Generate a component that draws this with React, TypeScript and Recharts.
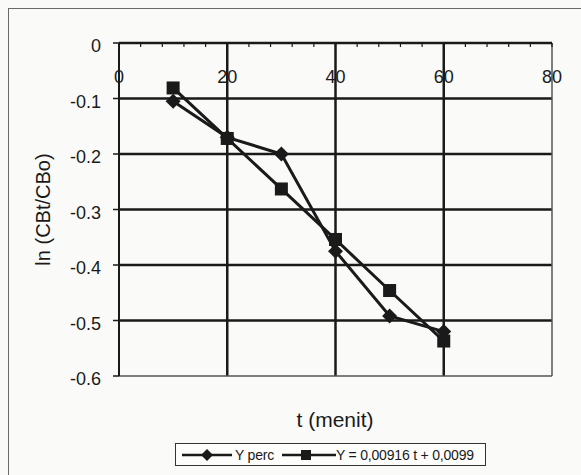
import React from 'react';
import { LineChart, Line, XAxis, YAxis, ReferenceLine } from 'recharts';

// waktu (menit) dan ln(CBt/CBo)
const T_MENIT = [10, 20, 30, 40, 50, 60];
const Y_PERC = [-0.105, -0.17, -0.2, -0.375, -0.492, -0.52];
const Y_FIT = [-0.081, -0.172, -0.263, -0.354, -0.446, -0.537];

const X_TICKS = [0, 4, 8, 12, 16, 20, 24, 28, 32, 36, 40, 44, 48, 52, 56, 60, 64, 68, 72, 76, 80];
const X_MAJOR = [0, 20, 40, 60, 80];
const Y_TICKS = [0, -0.1, -0.2, -0.3, -0.4, -0.5, -0.6];
const GRID_X = [20, 40, 60];
const GRID_Y = [-0.1, -0.2, -0.3, -0.4, -0.5];

const LEGEND = ['Y perc', 'Y = 0,00916 t + 0,0099'];

const FONT = "'Liberation Sans', Arial, sans-serif";
const INK = '#1a1a1a';
const PLOT_TOP = 43;

const data = T_MENIT.map((t, i) => ({ t, perc: Y_PERC[i], fit: Y_FIT[i] }));

const Diamond = (props: any) => {
  const { cx, cy } = props;
  if (cx == null || cy == null) return null;
  return <polygon points={`${cx},${cy - 7.5} ${cx + 7.5},${cy} ${cx},${cy + 7.5} ${cx - 7.5},${cy}`} fill={INK} />;
};

const Square = (props: any) => {
  const { cx, cy } = props;
  if (cx == null || cy == null) return null;
  return <rect x={cx - 6.5} y={cy - 6.5} width={13} height={13} fill={INK} />;
};

const XTick = (props: any) => {
  const { x, payload } = props;
  const v = payload.value;
  return (
    <g>
      <line x1={x} x2={x} y1={PLOT_TOP} y2={PLOT_TOP + 4} stroke={INK} strokeWidth={1.2} />
      {X_MAJOR.includes(v) && (
        <text x={x} y={PLOT_TOP + 34} textAnchor="middle" dominantBaseline="central" fontSize={18} fill={INK} fontFamily={FONT}>
          {v}
        </text>
      )}
    </g>
  );
};

function LegendBox() {
  return (
    <div
      style={{
        position: 'absolute',
        left: 175,
        top: 443,
        width: 311,
        height: 23,
        border: '1.5px solid #333',
        display: 'flex',
        alignItems: 'center',
        fontFamily: FONT,
        fontSize: 14,
        letterSpacing: -0.2,
        color: INK,
        boxSizing: 'border-box',
        background: '#fdfdfc',
      }}
    >
      <svg width={54} height={14} style={{ marginLeft: 4 }}>
        <line x1={2} x2={52} y1={7} y2={7} stroke={INK} strokeWidth={2.5} />
        <polygon points="27,1 33,7 27,13 21,7" fill={INK} />
      </svg>
      <span style={{ marginLeft: 1 }}>{LEGEND[0]}</span>
      <svg width={56} height={14} style={{ marginLeft: 6 }}>
        <line x1={2} x2={56} y1={7} y2={7} stroke={INK} strokeWidth={2.5} />
        <rect x={21} y={2} width={10} height={10} fill={INK} />
      </svg>
      <span>{LEGEND[1]}</span>
    </div>
  );
}

export default function App() {
  return (
    <div style={{ position: 'absolute', left: 0, top: 0, width: 581, height: 475, background: '#fafaf8', overflow: 'hidden' }}>
      <div
        style={{
          position: 'absolute',
          left: 8,
          top: 8,
          width: 600,
          height: 500,
          borderTop: '1.5px solid #6a6a66',
          borderLeft: '1.5px solid #6a6a66',
        }}
      />
      <div style={{ position: 'absolute', left: 0, top: 0 }}>
        <LineChart width={581} height={475} data={data} margin={{ top: 23, right: 29, bottom: 99, left: 59 }}>
          <XAxis
            dataKey="t"
            type="number"
            domain={[0, 80]}
            ticks={X_TICKS}
            interval={0}
            orientation="top"
            height={20}
            tickLine={false}
            axisLine={{ stroke: INK, strokeWidth: 2.5 }}
            tick={<XTick />}
          />
          <YAxis
            type="number"
            domain={[-0.6, 0]}
            ticks={Y_TICKS}
            interval={0}
            width={60}
            tickSize={6}
            tickMargin={12}
            tickFormatter={(v: number) => (v === 0 ? '0' : v.toFixed(1))}
            tick={{ fill: INK, fontSize: 18, fontFamily: FONT, dy: 3 }}
            tickLine={{ stroke: INK, strokeWidth: 1.5 }}
            axisLine={{ stroke: INK, strokeWidth: 2 }}
            label={{
              value: 'ln (CBt/CBo)',
              angle: -90,
              position: 'insideLeft',
              offset: -16,
              style: { textAnchor: 'middle', fontSize: 20, fontFamily: FONT, fill: INK },
            }}
          />
          {GRID_X.map((g) => (
            <ReferenceLine key={'gx' + g} x={g} stroke={INK} strokeWidth={2.5} />
          ))}
          {GRID_Y.map((g) => (
            <ReferenceLine key={'gy' + g} y={g} stroke={INK} strokeWidth={2.5} />
          ))}
          <ReferenceLine x={80} stroke="#555" strokeWidth={1.5} />
          <ReferenceLine y={-0.6} stroke="#555" strokeWidth={1.5} />
          <Line
            type="linear"
            dataKey="perc"
            name={LEGEND[0]}
            stroke={INK}
            strokeWidth={3}
            dot={<Diamond />}
            isAnimationActive={false}
          />
          <Line
            type="linear"
            dataKey="fit"
            name={LEGEND[1]}
            stroke={INK}
            strokeWidth={3}
            dot={<Square />}
            isAnimationActive={false}
          />
        </LineChart>
      </div>
      <div
        style={{
          position: 'absolute',
          left: 235,
          top: 408,
          width: 200,
          textAlign: 'center',
          fontFamily: FONT,
          fontSize: 21,
          color: INK,
        }}
      >
        t (menit)
      </div>
      <LegendBox />
    </div>
  );
}
